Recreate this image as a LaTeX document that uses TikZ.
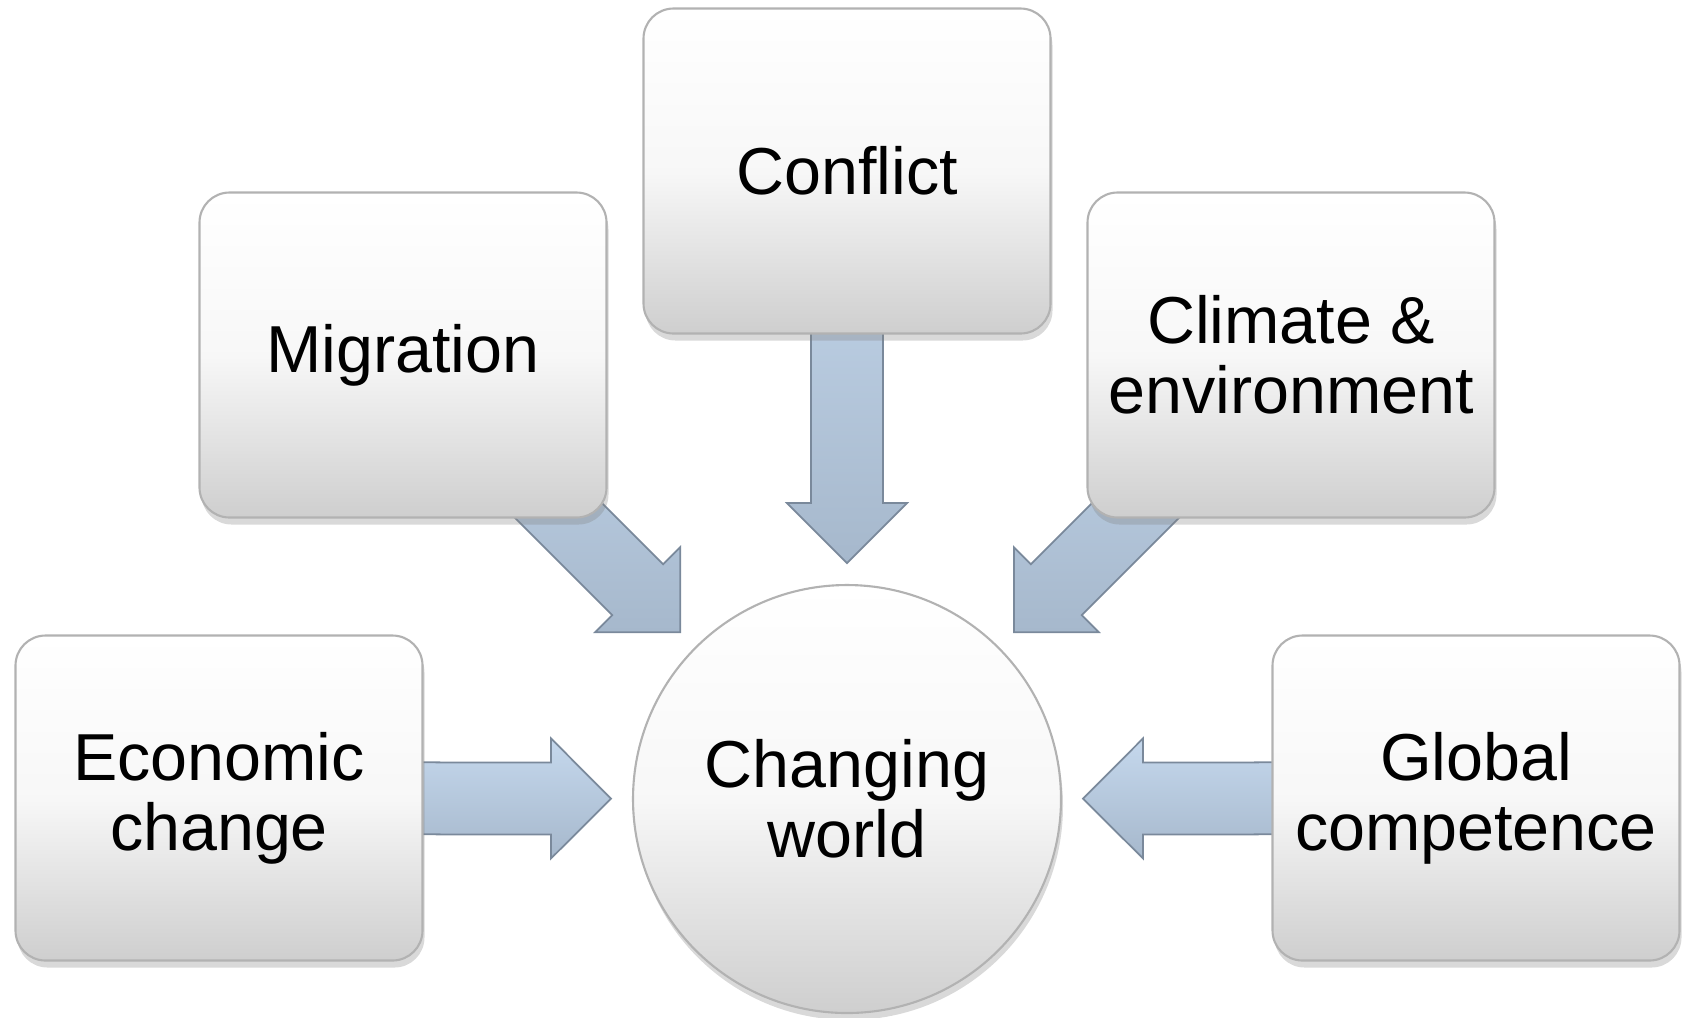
\documentclass[tikz,border=0pt]{standalone}
\usepackage{fontspec}
\setmainfont{Liberation Sans}
\usepackage{tikz}
\usetikzlibrary{calc, shadows, backgrounds}

\definecolor{arrowtop}{RGB}{197,216,237}
\definecolor{arrowbot}{RGB}{166,184,204}
\definecolor{arrowedge}{RGB}{122,137,155}

\tikzset{
    factor/.style={rectangle, rounded corners=3mm, draw=black!30, line width=0.6pt,
        top color=white, bottom color=black!19, middle color=black!3,
        minimum width=40.7mm, minimum height=32.5mm, align=center,
        font=\fontsize{18.9pt}{19.9pt}\selectfont,
        drop shadow={shadow xshift=0.2mm, shadow yshift=-0.7mm, opacity=0.3}},
    hub/.style={circle, draw=black!30, line width=0.6pt,
        top color=white, bottom color=black!19, middle color=black!3,
        minimum size=42.8mm, inner sep=0pt, align=center,
        font=\fontsize{18.9pt}{19.9pt}\selectfont,
        drop shadow={shadow xshift=0.2mm, shadow yshift=-0.7mm, opacity=0.3}},
    flow/.style={draw=arrowedge, line width=0.5pt, line join=miter,
        top color=arrowtop, bottom color=arrowbot}
}

\newcommand{\flowarrow}[2]{%
    \coordinate (hb) at ($(#2)!6mm!(#1)$);
    \path[flow] ($(#1)!3.6mm!90:(#2)$) -- ($(hb)!3.6mm!-90:(#1)$)
        -- ($(hb)!6mm!-90:(#1)$) -- (#2) -- ($(hb)!6mm!90:(#1)$)
        -- ($(hb)!3.6mm!90:(#1)$) -- ($(#1)!3.6mm!-90:(#2)$) -- cycle;}

\begin{document}
\begin{tikzpicture}[x=0.1mm, y=-0.1mm]
        \useasboundingbox (0,0) rectangle (1682,1017);

        \node[hub] (world) at (847,799) {Changing\\world};

        \node[factor] (conflict) at (847,171) {Conflict};
        \node[factor] (migration) at (403,355) {Migration};
        \node[factor] (climate) at (1291,355) {Climate \&\\environment};
        \node[factor] (economic) at (219,798) {Economic\\change};
        \node[factor] (global) at (1476,798) {Global\\competence};

        \coordinate (conflicttip) at ($(world)!23.6mm!(conflict)$);
        \coordinate (migrationtip) at ($(world)!23.6mm!(migration)$);
        \coordinate (climatetip) at ($(world)!23.6mm!(climate)$);
        \coordinate (economictip) at ($(world)!23.6mm!(economic)$);
        \coordinate (globaltip) at ($(world)!23.6mm!(global)$);

        \begin{pgfonlayer}{background}
            \flowarrow{conflict}{conflicttip}
            \flowarrow{migration}{migrationtip}
            \flowarrow{climate}{climatetip}
            \flowarrow{economic}{economictip}
            \flowarrow{global}{globaltip}
        \end{pgfonlayer}
\end{tikzpicture}
\end{document}
